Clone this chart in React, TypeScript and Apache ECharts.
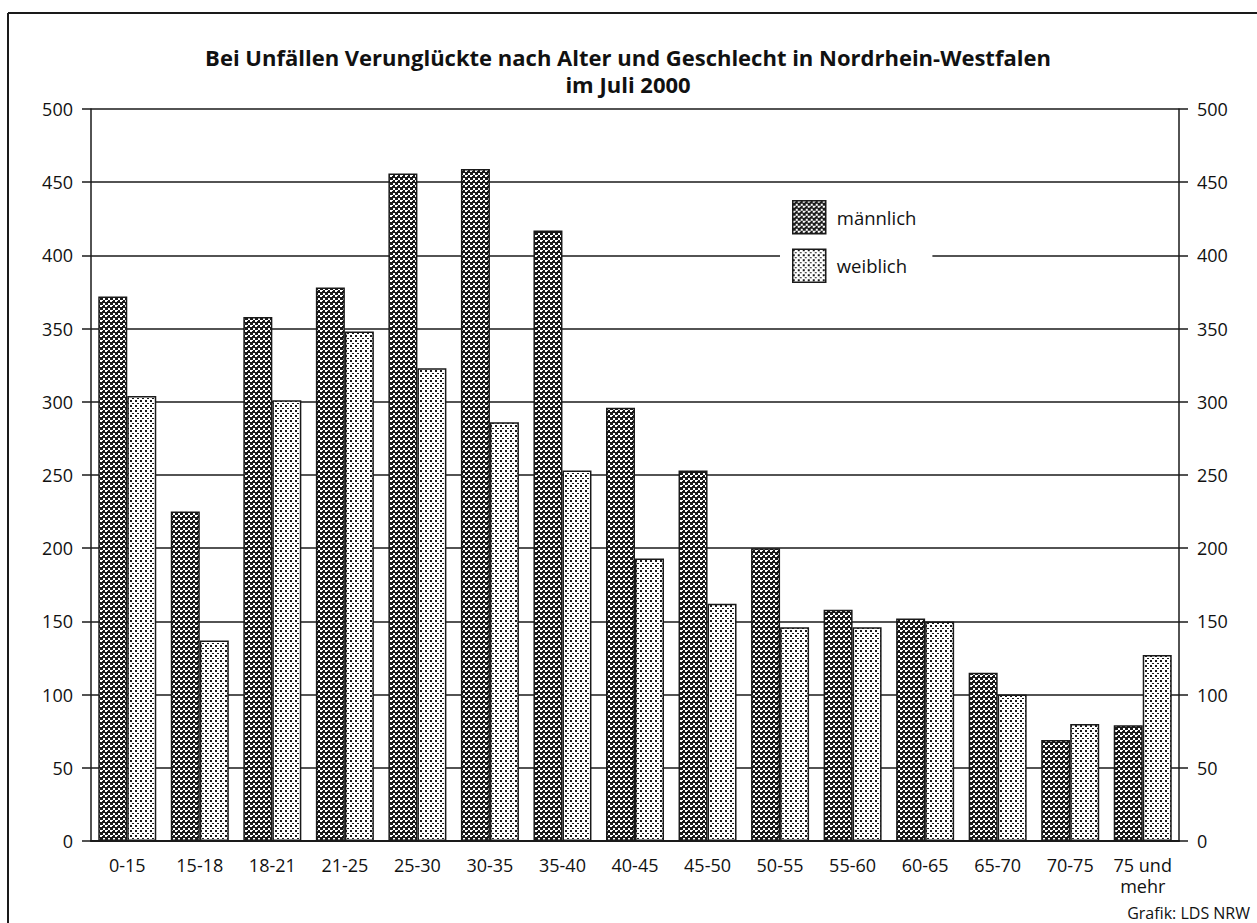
import React, { useEffect, useRef } from "react";
import * as echarts from "echarts";

const categories = ["0-15", "15-18", "18-21", "21-25", "25-30", "30-35", "35-40", "40-45", "45-50", "50-55", "55-60", "60-65", "65-70", "70-75", "75 und\nmehr"];
const maleValues = [372, 225, 358, 378, 456, 459, 417, 296, 253, 200, 158, 152, 115, 69, 79];
const femaleValues = [304, 137, 301, 348, 323, 286, 253, 193, 162, 146, 146, 150, 100, 80, 127];
const seriesNames = ["männlich", "weiblich"];
const titleLines = ["Bei Unfällen Verunglückte nach Alter und Geschlecht in Nordrhein-Westfalen", "im Juli 2000"];
const sourceText = "Grafik: LDS NRW";

function makePattern(dark: boolean) {
  const c = document.createElement("canvas");
  c.width = 5;
  c.height = 5;
  const ctx = c.getContext("2d")!;
  ctx.fillStyle = dark ? "#1a1a1a" : "#ffffff";
  ctx.fillRect(0, 0, 5, 5);
  ctx.fillStyle = dark ? "#ffffff" : "#1a1a1a";
  if (dark) {
    ctx.fillRect(0, 0, 2, 2);
    ctx.fillRect(3, 3, 2, 2);
    ctx.fillRect(2, 0, 1, 1);
  } else {
    ctx.fillRect(0, 0, 2, 2);
    ctx.fillRect(3, 3, 1, 1);
    ctx.fillRect(2, 3, 1, 1);
  }
  return { image: c, repeat: "repeat", imageWidth: 5, imageHeight: 5 } as any;
}

export default function App() {
  const ref = useRef<HTMLDivElement>(null);
  useEffect(() => {
    document.body.style.margin = "0";
    const chart = echarts.init(ref.current!, null, { renderer: "svg" });
    const malePat = makePattern(true);
    const femalePat = makePattern(false);
    const font = "'Open Sans', 'Noto Sans', sans-serif";
    const lineC = "#1a1a1a";
    const yAxisCommon = {
      type: "value",
      min: 0,
      max: 500,
      interval: 50,
      axisLine: { show: true, lineStyle: { color: lineC, width: 1.5 } },
      axisTick: { show: true, length: 9, lineStyle: { color: lineC, width: 1.5 } },
      axisLabel: { color: "#111", fontSize: 18, fontFamily: font, margin: 18 },
    };
    const titleStyle = { fill: "#111", fontSize: 22, fontWeight: "bold", fontFamily: font, textAlign: "center", textVerticalAlign: "middle" };
    chart.setOption({
      animation: false,
      backgroundColor: "#fff",
      textStyle: { fontFamily: font },
      graphic: [
        { type: "line", shape: { x1: 8, y1: 13, x2: 1257, y2: 13 }, style: { stroke: lineC, lineWidth: 2 } },
        { type: "line", shape: { x1: 8, y1: 13, x2: 8, y2: 923 }, style: { stroke: lineC, lineWidth: 2 } },
        { type: "text", x: 628, y: 57, style: { text: titleLines[0], ...titleStyle } },
        { type: "text", x: 628, y: 84, style: { text: titleLines[1], ...titleStyle } },
        {
          type: "text",
          right: 7,
          top: 905,
          style: { text: sourceText, fill: "#111", fontSize: 16, fontFamily: font },
        },
      ],
      legend: {
        orient: "vertical",
        left: 780,
        top: 196,
        itemWidth: 33,
        itemHeight: 33,
        itemGap: 14,
        padding: [4, 16, 4, 12],
        backgroundColor: "#fff",
        icon: "rect",
        textStyle: { fontSize: 18.5, color: "#111", fontFamily: font, padding: [0, 0, 0, 6] },
        data: [
          { name: seriesNames[0], itemStyle: { color: malePat, borderColor: lineC, borderWidth: 1.5 } },
          { name: seriesNames[1], itemStyle: { color: femalePat, borderColor: lineC, borderWidth: 1.5 } },
        ],
      },
      grid: { left: 91, right: 78, top: 109, bottom: 82, containLabel: false },
      xAxis: {
        type: "category",
        data: categories,
        axisLine: { show: true, lineStyle: { color: lineC, width: 2 } },
        axisTick: { show: false },
        axisLabel: { color: "#111", fontSize: 18, fontFamily: font, margin: 13, interval: 0, lineHeight: 21 },
      },
      yAxis: [
        {
          ...yAxisCommon,
          position: "left",
          splitLine: { show: true, lineStyle: { color: lineC, width: 1.5 } },
        },
        {
          ...yAxisCommon,
          position: "right",
          splitLine: { show: false },
        },
      ],
      series: [
        {
          name: seriesNames[0],
          type: "bar",
          data: maleValues,
          barWidth: 29,
          barGap: "0%",
          itemStyle: { color: malePat, borderColor: lineC, borderWidth: 1.5 },
        },
        {
          name: seriesNames[1],
          type: "bar",
          data: femaleValues,
          barWidth: 29,
          barGap: "0%",
          itemStyle: { color: femalePat, borderColor: lineC, borderWidth: 1.5 },
        },
      ],
    });
    return () => chart.dispose();
  }, []);
  return <div ref={ref} style={{ width: 1257, height: 923 }} />;
}
